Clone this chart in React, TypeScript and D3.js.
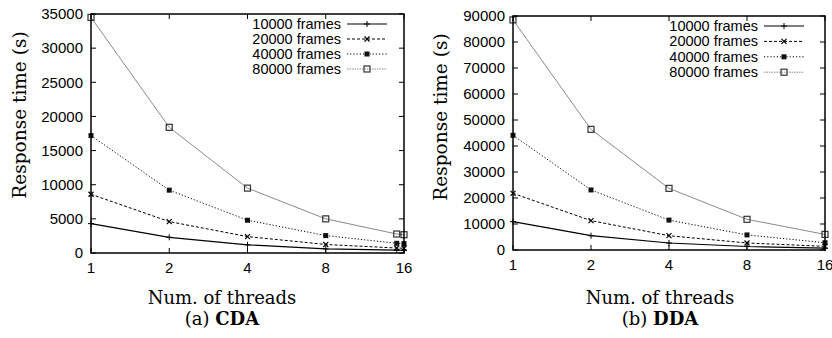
import * as d3 from "d3";

// thread counts on the x axis
const threadTicks = [1, 2, 4, 8, 16];
const cdaThreads = [1, 2, 4, 8, 15, 16];
const ddaThreads = [1, 2, 4, 8, 16];

const seriesNames = ["10000 frames", "20000 frames", "40000 frames", "80000 frames"];

// CDA response times (s)
const cda10000 = [4300, 2300, 1200, 600, 420, 400];
const cda20000 = [8600, 4600, 2400, 1250, 730, 700];
const cda40000 = [17200, 9200, 4800, 2550, 1420, 1380];
const cda80000 = [34500, 18400, 9500, 5000, 2780, 2680];

// DDA response times (s)
const dda10000 = [10900, 5500, 2700, 1350, 700];
const dda20000 = [21800, 11300, 5500, 2700, 1400];
const dda40000 = [44100, 23100, 11500, 5800, 2800];
const dda80000 = [88500, 46400, 23700, 11800, 6000];

const cdaTicks = [0, 5000, 10000, 15000, 20000, 25000, 30000, 35000];
const ddaTicks = [0, 10000, 20000, 30000, 40000, 50000, 60000, 70000, 80000, 90000];

const styles = [
  { color: "#000", dash: "none", width: 1.2, marker: "plus" },
  { color: "#000", dash: "3,2", width: 1, marker: "cross" },
  { color: "#000", dash: "1.2,2", width: 1, marker: "blob" },
  { color: "#8a8a8a", dash: "none", width: 1, marker: "square" },
];

const sans = "Liberation Sans, Arial, sans-serif";
const serif = "DejaVu Serif, serif";

function Marker({ kind, x, y, color }) {
  if (kind === "plus")
    return <path d={`M${x - 3},${y}H${x + 3}M${x},${y - 3}V${y + 3}`} stroke={color} strokeWidth={1} />;
  if (kind === "cross")
    return <path d={`M${x - 2.5},${y - 2.5}L${x + 2.5},${y + 2.5}M${x - 2.5},${y + 2.5}L${x + 2.5},${y - 2.5}`} stroke={color} strokeWidth={1.2} />;
  if (kind === "blob")
    return <rect x={x - 2.5} y={y - 2.5} width={5} height={5} fill="#111" />;
  return <rect x={x - 3} y={y - 3} width={6} height={6} fill="none" stroke="#333" strokeWidth={1.2} />;
}

function Panel({ left, right, top, bottom, maxY, yTicks, threads, series, legendX, legendY, legendStep, titleX, caption, bold, yTitleX, yTitleY }) {
  const x = d3.scaleLog().base(2).domain([1, 16]).range([left, right]);
  const y = d3.scaleLinear().domain([0, maxY]).range([bottom, top]);
  const line = d3.line<number>().x((_, i) => x(threads[i])).y((d) => y(d));
  const tick = 5;
  return (
    <g>
      {series.map((vals, si) => (
        <g key={si}>
          <path d={line(vals) || ""} fill="none" stroke={styles[si].color} strokeWidth={styles[si].width} strokeDasharray={styles[si].dash} />
          {vals.map((v, i) => (
            <Marker key={i} kind={styles[si].marker} x={x(threads[i])} y={y(v)} color={styles[si].color} />
          ))}
        </g>
      ))}
      {/* frame */}
      <rect x={left} y={top} width={right - left} height={bottom - top} fill="none" stroke="#000" strokeWidth={1.5} />
      {yTicks.map((t) => (
        <g key={t}>
          <line x1={left} x2={left + tick} y1={y(t)} y2={y(t)} stroke="#000" />
          <line x1={right} x2={right - tick} y1={y(t)} y2={y(t)} stroke="#000" />
          <text x={left - 8} y={y(t)} dy="0.35em" textAnchor="end" fontFamily={sans} fontSize={15}>{t}</text>
        </g>
      ))}
      {threadTicks.map((t) => (
        <g key={t}>
          <line x1={x(t)} x2={x(t)} y1={bottom} y2={bottom - tick} stroke="#000" />
          <line x1={x(t)} x2={x(t)} y1={top} y2={top + tick} stroke="#000" />
          <text x={x(t)} y={bottom + 20} textAnchor="middle" fontFamily={sans} fontSize={15}>{t}</text>
        </g>
      ))}
      {/* legend */}
      {seriesNames.map((n, i) => {
        const ly = legendY + i * legendStep;
        return (
          <g key={n}>
            <text x={legendX} y={ly} dy="0.35em" textAnchor="end" fontFamily={sans} fontSize={14.5}>{n}</text>
            <line x1={legendX + 6} x2={legendX + 46} y1={ly} y2={ly} stroke={styles[i].color} strokeWidth={styles[i].width} strokeDasharray={i === 3 ? "1.5,1" : styles[i].dash} />
            <Marker kind={styles[i].marker} x={legendX + 26} y={ly} color={styles[i].color} />
          </g>
        );
      })}
      <text transform={`translate(${yTitleX},${yTitleY}) rotate(-90)`} textAnchor="middle" fontFamily={serif} fontSize={18.5}>Response time (s)</text>
      <text x={titleX} y={304} textAnchor="middle" fontFamily={serif} fontSize={18}>Num. of threads</text>
      <text x={titleX} y={325} textAnchor="middle" fontFamily={serif} fontSize={18}>
        {caption} <tspan fontWeight="bold">{bold}</tspan>
      </text>
    </g>
  );
}

export default function App() {
  return (
    <svg width={832} height={338} style={{ position: "absolute", left: 0, top: 0, background: "#fff" }}>
      <Panel left={91} right={404} top={14} bottom={253} maxY={35000} yTicks={cdaTicks} threads={cdaThreads}
        series={[cda10000, cda20000, cda40000, cda80000]} legendX={341} legendY={24} legendStep={15}
        titleX={222} caption="(a)" bold="CDA" yTitleX={26} yTitleY={115} />
      <Panel left={513} right={825} top={16} bottom={250} maxY={90000} yTicks={ddaTicks} threads={ddaThreads}
        series={[dda10000, dda20000, dda40000, dda80000]} legendX={758} legendY={26} legendStep={15.4}
        titleX={660} caption="(b)" bold="DDA" yTitleX={447} yTitleY={117} />
    </svg>
  );
}
